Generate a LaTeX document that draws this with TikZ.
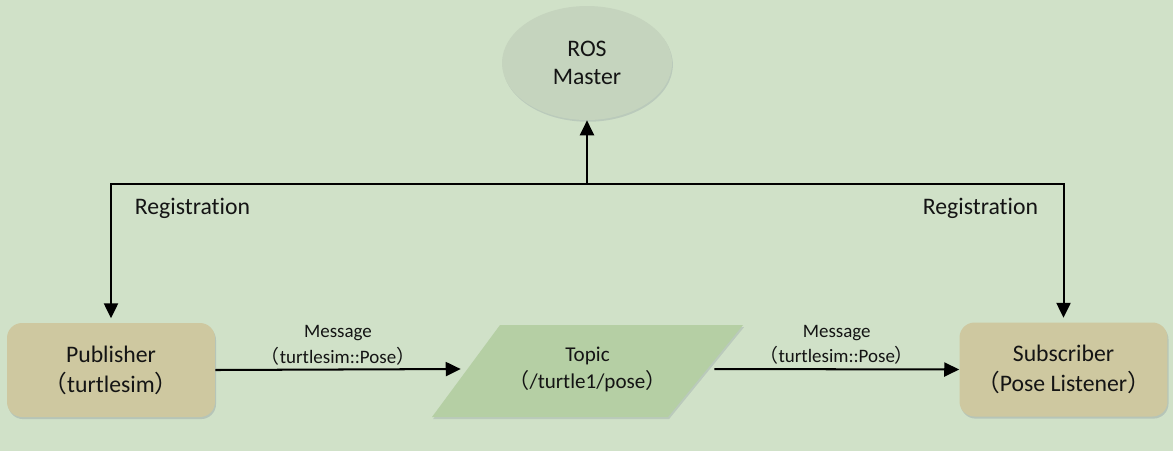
\documentclass[tikz,border=0pt]{standalone}
\usepackage{fontspec}
\setmainfont[Ligatures=NoCommon]{Carlito}
\newfontfamily\cjkfont{Noto Sans CJK SC}
\usetikzlibrary{arrows.meta,shapes.geometric,shadows,calc}
\definecolor{bgcol}{RGB}{208,225,200}
\definecolor{mastercol}{RGB}{197,212,190}
\definecolor{boxcol}{RGB}{206,200,160}
\definecolor{topiccol}{RGB}{181,207,164}
\definecolor{inkcol}{RGB}{20,20,20}
\newcommand\fwl{{\cjkfont （}}
\newcommand\fwr{{\cjkfont ）}}
\tikzset{
  tip/.style={-{Triangle[length=8.5pt,width=8pt]}},
  conn/.style={line width=1.15pt, draw=black},
  boxnode/.style={rectangle, rounded corners=0.3cm, fill=boxcol, minimum width=4.16cm, minimum height=1.88cm,
    align=center, font=\fontsize{13.5}{17}\selectfont, text=inkcol,
    drop shadow={shadow xshift=0.6pt, shadow yshift=-1.2pt, opacity=0.12, fill=blue!30!black}},
  masternode/.style={ellipse, fill=mastercol, minimum width=3.4cm, minimum height=2.28cm, inner sep=0pt,
    align=center, font=\fontsize{13.5}{16}\selectfont, text=inkcol,
    drop shadow={shadow xshift=0.5pt, shadow yshift=-1pt, opacity=0.1, fill=blue!30!black}},
  topicnode/.style={rectangle, minimum width=5.06cm, minimum height=1.84cm, inner sep=0pt,
    align=center, font=\fontsize{12}{15.3}\selectfont, text=inkcol},
  msglabel/.style={align=center, font=\fontsize{10.8}{14.7}\selectfont, text=inkcol, inner sep=2pt},
  reglabel/.style={font=\fontsize{13.5}{16}\selectfont, text=inkcol, inner sep=0pt},
}
\begin{document}
\begin{tikzpicture}[x=0.02cm, y=-0.02cm]
\fill[bgcol] (0,0) rectangle (1173,451);
\useasboundingbox (0,0) rectangle (1173,451);

% topic parallelogram shape
\fill[topiccol, drop shadow={shadow xshift=0.6pt, shadow yshift=-1.2pt, opacity=0.1, fill=blue!30!black}]
  (432,417) -- (500,325) -- (743,325) -- (668,417) -- cycle;

\node[masternode] (master) at (587,63) {ROS\\Master};
\node[boxnode] (pub) at (111,370) {Publisher\\\fwl turtlesim\fwr};
\node[boxnode] (sub) at (1063.5,369.5) {Subscriber\\\fwl Pose Listener\fwr};
\node[topicnode] (topic) at (587.5,369) {Topic\\\fwl/turtle1/pose\fwr};

\coordinate (jleft) at (pub.north |- 0,184);
\coordinate (jright) at (sub.north |- 0,184);
\coordinate (jmid) at (master.south |- 0,184);

\draw[conn, {Triangle[length=8.5pt,width=8pt]}-{Triangle[length=8.5pt,width=8pt]}, shorten <=2.5pt, shorten >=2.5pt]
  (pub.north) -- (jleft) -- (jright) -- (sub.north);
\draw[conn, tip] (jmid) -- (master.south);

\draw[conn, tip] (pub.east) -- node[msglabel, above] {Message\\\fwl turtlesim::Pose\fwr} (topic.west);
\draw[conn, tip] (topic.east) -- node[msglabel, above] {Message\\\fwl turtlesim::Pose\fwr} (sub.west);

\node[reglabel] (regl) at (192.5,208) {Registration};
\node[reglabel] (regr) at (980.5,208) {Registration};
\end{tikzpicture}
\end{document}
